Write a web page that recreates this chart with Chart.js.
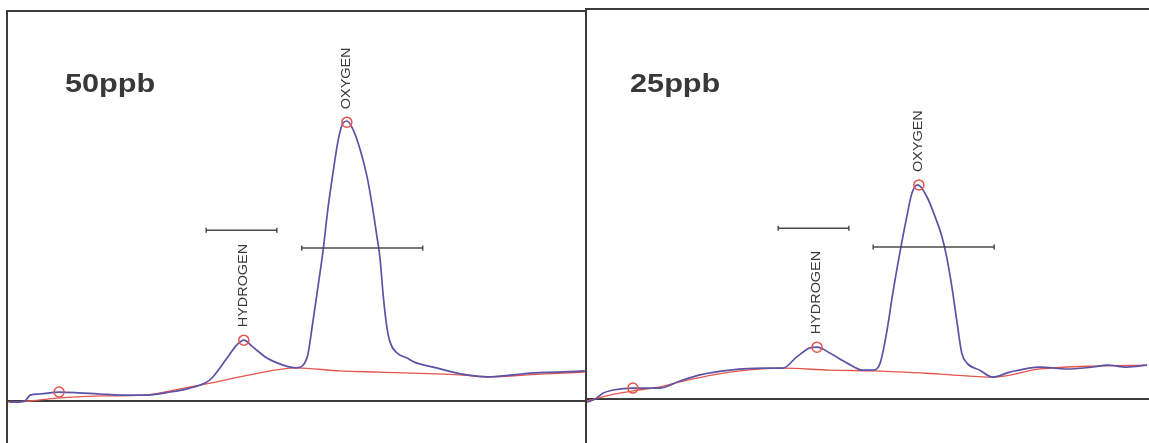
<!DOCTYPE html>
<html>
<head>
<meta charset="utf-8">
<script src="https://cdn.jsdelivr.net/npm/chart.js@4.4.0/dist/chart.umd.min.js"></script>
<style>
  html, body { margin: 0; padding: 0; background: #ffffff; }
  body { width: 1149px; height: 443px; position: relative; overflow: hidden; }
  canvas { position: absolute; top: 0; }
  #left { left: 0; }
  #right { left: 580px; }
</style>
</head>
<body>
<canvas id="left" width="590" height="443"></canvas>
<canvas id="right" width="569" height="443"></canvas>
<script>
// ---------- 50 ppb panel ----------
const leftTime = [0.5, 1.4, 3.1, 4.0, 5.7, 9.0, 12.6, 16.1, 19.5, 23.8, 28.2, 31.6, 34.2, 35.4, 38.0, 39.7, 40.9, 42.5, 44.9, 47.7, 49.9,
  51.8, 52.8, 53.7, 54.6, 55.4, 56.3, 57.2, 58.0, 58.7, 59.8, 61.0, 62.2, 63.0, 63.9, 64.4, 65.0, 65.6, 66.2, 67.4, 69.1, 70.8,
  73.6, 77.0, 79.4, 82.9, 87.4, 90.8, 95.0, 99.8];
const leftSignal = [-0.3, -0.3, 0.0, 1.5, 1.8, 2.3, 2.1, 1.8, 1.5, 1.5, 2.3, 3.3, 4.6, 5.9, 11.0, 14.4, 15.6, 13.8, 11.0, 9.2, 8.5,
  11.0, 20.0, 29.2, 38.7, 49.0, 58.5, 66.9, 71.2, 71.8, 69.5, 64.4, 57.4, 50.8, 42.1, 36.9, 26.7, 19.0, 14.9, 12.3, 11.0, 9.7,
  8.7, 7.4, 6.7, 6.2, 6.7, 7.2, 7.4, 7.7];
const leftBaseTime = [0.2, 4.0, 9.2, 16.1, 23.8, 29.9, 35.1, 42.0, 49.9, 57.5, 64.4, 78.2, 82.9, 92.1, 99.8];
const leftBaseSignal = [-0.3, 0.0, 0.8, 1.3, 1.5, 3.1, 4.6, 6.7, 8.5, 7.7, 7.4, 6.7, 6.2, 6.9, 7.4];
const leftPeakTime = [9.0, 40.9, 58.7];
const leftPeakSignal = [2.3, 15.6, 71.5];
const leftWindowStart = [34.4, 50.9];
const leftWindowEnd = [46.6, 71.8];
const leftWindowLevel = [43.8, 39.2];

// ---------- 25 ppb panel ----------
const rightTime = [0.2, 1.6, 2.9, 4.7, 8.1, 11.1, 12.8, 16.2, 19.7, 24.9, 30.6, 34.0, 36.4, 38.7, 39.9, 42.1, 45.1, 47.8, 49.6,
  50.8, 52.0, 53.0, 54.2, 55.4, 56.3, 57.3, 58.9, 60.3, 61.5, 62.3, 63.2, 64.1, 64.9, 65.8, 68.0, 70.3,
  73.2, 78.4, 83.1, 87.6, 90.0, 93.4, 96.9];
const rightSignal = [-0.8, 0.0, 1.5, 2.3, 2.8, 2.8, 2.8, 4.6, 6.2, 7.4, 7.9, 7.9, 10.8, 13.1, 13.3, 11.8, 9.2, 7.4, 7.4,
  9.2, 17.7, 27.2, 37.4, 46.7, 52.8, 54.9, 51.8, 46.7, 41.5, 36.4, 28.7, 19.5, 11.8, 9.2, 7.4, 5.6,
  6.9, 8.2, 7.7, 8.2, 8.7, 8.2, 8.7];
const rightBaseTime = [0.2, 4.1, 8.1, 12.8, 16.2, 24.9, 34.0, 42.1, 49.9, 61.1, 70.3, 78.4, 88.8, 96.9];
const rightBaseSignal = [-0.5, 1.0, 2.1, 3.1, 4.4, 6.9, 7.9, 7.4, 7.2, 6.4, 5.6, 7.7, 8.5, 8.7];
const rightPeakTime = [8.1, 39.9, 57.5];
const rightPeakSignal = [2.8, 13.3, 54.9];
const rightWindowStart = [33.2, 49.6];
const rightWindowEnd = [45.4, 70.5];
const rightWindowLevel = [43.8, 39.0];

const peakNames = ['', 'HYDROGEN', 'OXYGEN'];
const panelTitles = ['50ppb', '25ppb'];

const BLUE = '#5c52a6';
const RED = '#e5554e';
const FRAME = '#3c3c3c';
const INK = '#383838';

const textPlugin = {
  id: 'chromLabels',
  afterDatasetsDraw(chart, args, opts) {
    const ctx = chart.ctx;
    const xs = chart.scales.x, ys = chart.scales.y;
    ctx.save();
    ctx.fillStyle = INK;
    ctx.font = 'bold 26px "Liberation Sans", Arial, sans-serif';
    ctx.textBaseline = 'alphabetic';
    ctx.textAlign = 'left';
    ctx.save();
    ctx.translate(xs.getPixelForValue(opts.titleAt[0]), ys.getPixelForValue(opts.titleAt[1]));
    ctx.scale(1.18, 1);
    ctx.fillText(opts.title, 0, 0);
    ctx.restore();
    ctx.font = '12px "Liberation Sans", Arial, sans-serif';
    ctx.textBaseline = 'middle';
    opts.names.forEach((n, i) => {
      if (!n) return;
      const px = xs.getPixelForValue(opts.peakT[i]);
      const py = ys.getPixelForValue(opts.peakS[i]) - 13;
      ctx.save();
      ctx.translate(px, py);
      ctx.rotate(-Math.PI / 2);
      ctx.scale(1.2, 1);
      ctx.fillText(n, 0, 0);
      ctx.restore();
    });
    ctx.restore();
  }
};

function pairs(xs, ys) { return xs.map((x, i) => ({ x: x, y: ys[i] })); }

function makePanel(id, d) {
  const datasets = [
    { data: pairs(d.baseT, d.baseS), showLine: true, borderColor: RED, borderWidth: 1.3, pointRadius: 0, cubicInterpolationMode: 'monotone', order: 3 },
    { data: pairs(d.t, d.s), showLine: true, borderColor: BLUE, borderWidth: 1.7, pointRadius: 0, cubicInterpolationMode: 'monotone', order: 2 },
    { data: pairs(d.peakT, d.peakS), showLine: false, pointStyle: 'circle', pointRadius: 5, pointBorderColor: RED, pointBackgroundColor: 'rgba(0,0,0,0)', pointBorderWidth: 1.5, order: 1 }
  ];
  d.wStart.forEach((s, i) => {
    datasets.push({
      data: [{ x: s, y: d.wLevel[i] }, { x: d.wEnd[i], y: d.wLevel[i] }],
      showLine: true, borderColor: '#4a4a4a', borderWidth: 1.5,
      pointStyle: 'line', rotation: 90, pointRadius: 2.5, pointBorderColor: '#4a4a4a', pointBorderWidth: 1.5, order: 1
    });
  });
  return new Chart(document.getElementById(id), {
    type: 'scatter',
    data: { datasets: datasets },
    options: {
      responsive: false,
      animation: false,
      devicePixelRatio: 1,
      events: [],
      layout: { padding: d.pad, autoPadding: false },
      plugins: {
        legend: { display: false },
        tooltip: { enabled: false },
        chromLabels: { title: d.title, titleAt: d.titleAt, names: peakNames, peakT: d.peakT, peakS: d.peakS }
      },
      scales: {
        x: {
          type: 'linear', min: 0, max: d.xMax, position: { y: 0 },
          ticks: { display: false }, grid: { display: false, drawTicks: false },
          border: { display: true, color: FRAME, width: 2 }
        },
        x2: {
          type: 'linear', min: 0, max: d.xMax, position: 'top', axis: 'x',
          ticks: { display: false }, grid: { display: false, drawTicks: false },
          border: { display: true, color: FRAME, width: 2 }
        },
        y: {
          type: 'linear', min: d.yMin, max: 100, position: 'left',
          ticks: { display: false }, grid: { display: false, drawTicks: false },
          border: { display: true, color: FRAME, width: 2 }
        }
      }
    },
    plugins: [textPlugin]
  });
}

makePanel('left', {
  t: leftTime, s: leftSignal, baseT: leftBaseTime, baseS: leftBaseSignal,
  peakT: leftPeakTime, peakS: leftPeakSignal,
  wStart: leftWindowStart, wEnd: leftWindowEnd, wLevel: leftWindowLevel,
  title: panelTitles[0], titleAt: [10.0, 79.2],
  xMax: 100, yMin: -10.77, pad: { left: 7, top: 11, right: 4, bottom: 0 }
});
makePanel('right', {
  t: rightTime, s: rightSignal, baseT: rightBaseTime, baseS: rightBaseSignal,
  peakT: rightPeakTime, peakS: rightPeakSignal,
  wStart: rightWindowStart, wEnd: rightWindowEnd, wLevel: rightWindowLevel,
  title: panelTitles[1], titleAt: [7.6, 78.7],
  xMax: 97.24, yMin: -11.28, pad: { left: 6, top: 9, right: 0, bottom: 0 }
});
</script>
</body>
</html>
